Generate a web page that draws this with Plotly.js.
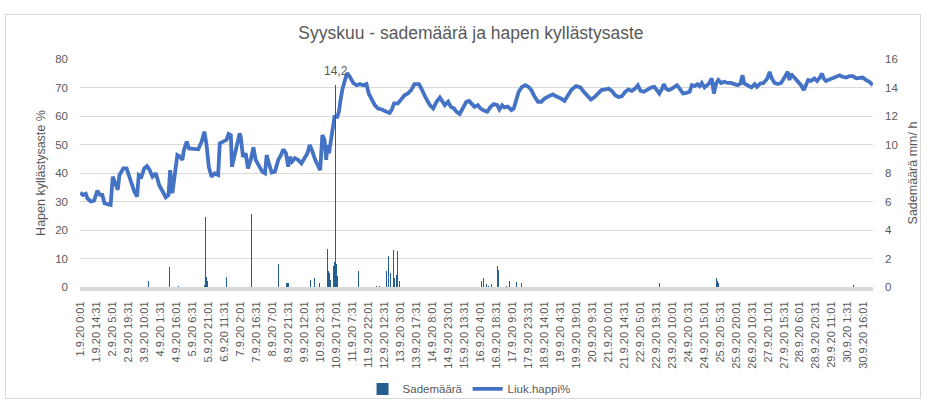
<!DOCTYPE html>
<html><head><meta charset="utf-8">
<script src="https://cdn.plot.ly/plotly-3.0.1.min.js"></script>
<style>
html,body{margin:0;padding:0;background:#fff;}
#chart{width:927px;height:406px;}
#frame{position:absolute;left:5px;top:14px;width:914px;height:383px;border:1px solid #d9d9d9;pointer-events:none;}
</style>
</head><body>
<div id="chart"></div><div id="frame"></div>
<script>
// Category axis: half-hour rows, labelled every 29th row
const tickLabels = ["1.9.20 0:01","1.9.20 14:31","2.9.20 5:01","2.9.20 19:31","3.9.20 10:01","4.9.20 1:31","4.9.20 16:01","5.9.20 6:31","5.9.20 21:01","6.9.20 11:31","7.9.20 2:01","7.9.20 16:31","8.9.20 7:01","8.9.20 21:31","9.9.20 12:01","10.9.20 2:31","10.9.20 17:01","11.9.20 7:31","11.9.20 22:01","12.9.20 12:31","13.9.20 3:01","13.9.20 17:31","14.9.20 8:01","14.9.20 23:01","15.9.20 13:31","16.9.20 4:01","16.9.20 18:31","17.9.20 9:01","17.9.20 23:31","18.9.20 14:01","19.9.20 4:31","19.9.20 19:01","20.9.20 9:31","21.9.20 0:01","21.9.20 14:31","22.9.20 5:01","22.9.20 19:31","23.9.20 10:01","24.9.20 0:31","24.9.20 15:01","25.9.20 5:31","25.9.20 20:01","26.9.20 10:31","27.9.20 1:01","27.9.20 15:31","28.9.20 6:01","28.9.20 20:31","29.9.20 11:01","30.9.20 1:31","30.9.20 16:01"];
const tickRowStep = 29;
const rowCount = 1438;

// Liuk.happi% (row index, value)
const oxyRow = [0,5,10,13,19,25,31,36,40,44,51,55,59,63,68,71,78,84,88,93,98,103,106,111,116,121,126,131,137,143,149,155,160,163,167,171,176,181,185,188,193,197,205,214,220,225,229,233,238,244,250,253,259,265,269,273,275,279,283,289,291,295,300,304,309,314,318,324,330,335,338,342,347,353,359,364,368,373,377,380,384,389,395,401,406,412,416,420,426,431,435,439,443,446,448,451,454,457,461,466,469,472,475,480,484,489,495,501,507,513,519,523,528,534,540,547,555,561,565,569,576,582,588,594,600,606,614,617,622,628,634,640,646,652,657,661,667,672,678,682,688,694,700,705,709,715,721,726,732,738,744,750,756,760,765,769,775,782,786,791,795,801,807,813,818,824,830,836,842,849,857,863,866,872,878,884,891,899,907,913,919,926,933,939,945,952,958,964,970,976,982,988,994,1000,1006,1011,1016,1022,1028,1035,1041,1046,1050,1055,1058,1062,1067,1073,1078,1082,1087,1093,1099,1105,1109,1114,1119,1123,1127,1132,1137,1141,1145,1149,1153,1157,1162,1168,1174,1180,1186,1192,1197,1201,1204,1210,1217,1223,1227,1233,1239,1246,1250,1254,1259,1265,1271,1276,1280,1283,1286,1289,1294,1298,1302,1307,1312,1316,1320,1325,1331,1336,1340,1345,1348,1352,1358,1364,1370,1377,1383,1389,1395,1401,1407,1413,1419,1425,1431,1437];
const oxyVal = [33.1,32.3,32.7,31.1,30.0,30.3,33.8,32.3,32.3,29.4,29.0,28.8,38.7,37.0,34.1,39.3,41.6,41.6,39.3,36.4,33.5,31.7,39.3,38.7,41.6,42.4,41.0,38.7,39.9,35.8,33.5,31.5,32.3,41.0,32.9,39.9,46.3,45.7,44.6,48.1,51.0,48.6,48.6,48.3,51.0,54.5,49.8,42.2,38.7,39.9,39.3,50.4,51.0,51.6,53.7,53.3,42.2,45.7,48.6,53.9,52.7,45.7,46.9,41.6,44.6,49.0,44.6,42.2,40.5,39.9,46.3,43.4,40.2,40.5,44.6,46.3,48.3,46.9,42.2,45.7,44.0,45.2,44.6,43.4,45.2,46.9,49.8,48.1,44.6,42.2,41.0,53.3,51.6,44.6,49.8,46.9,51.0,56.2,59.7,59.7,61.5,65.6,69.1,72.6,75.1,73.7,71.6,70.8,71.2,70.8,71.2,67.9,66.1,63.8,62.6,62.3,61.5,61.1,62.3,64.4,64.4,66.1,67.3,67.9,69.1,71.2,71.2,70.2,67.9,65.8,63.8,62.6,65.0,66.5,65.0,63.8,65.0,63.2,62.6,61.5,60.7,63.2,65.0,65.3,64.4,63.2,63.8,62.6,61.9,61.5,63.2,64.2,63.8,62.3,63.8,63.0,63.3,62.1,62.6,65.6,68.5,70.2,70.8,70.2,69.1,66.7,65.0,65.0,66.1,66.9,67.6,66.9,66.7,66.1,65.3,67.3,69.3,70.5,70.0,68.5,67.3,65.8,66.7,67.9,69.1,69.3,69.6,68.8,67.3,66.7,66.9,68.5,69.3,68.8,69.6,70.8,68.8,68.5,69.1,70.0,70.2,69.1,67.9,69.6,71.2,69.6,69.1,69.6,70.5,70.8,69.6,67.9,68.1,68.5,70.8,70.5,71.2,70.5,71.6,70.0,70.8,71.6,73.2,67.9,71.4,72.6,71.6,72.0,71.6,71.6,71.2,70.8,71.4,74.3,71.4,70.8,70.0,71.2,70.2,71.4,71.6,73.2,75.5,73.2,71.6,71.2,71.6,73.2,74.3,75.5,72.6,74.7,73.7,72.8,71.6,70.8,69.1,71.2,72.6,72.3,73.2,72.3,73.2,74.9,73.2,72.3,72.8,73.2,73.5,74.3,73.7,73.5,74.0,74.0,73.2,73.2,73.5,72.6,72.0,70.8];

// Sademäärä mm/h (row index, value) – rows without rain are zero
const rainRow = [124,162,178,206,225,227,229,231,265,310,359,360,364,366,368,374,376,378,417,420,422,425,429,431,434,448,449,450,452,454,459,461,462,463,465,466,505,511,537,543,545,555,556,558,559,560,563,565,568,570,571,573,575,576,579,587,725,728,731,734,737,740,746,752,757,758,761,765,770,773,778,781,785,788,791,794,797,800,803,1050,1111,1115,1118,1120,1151,1154,1156,1157,1402];
const rainVal = [0.45,1.4,0.1,0.12,0.15,4.9,0.7,0.4,0.7,5.1,1.6,1.7,0.2,0.2,0.2,0.3,0.3,0.3,0.5,0.75,0.7,0.6,3.0,0.5,0.3,2.7,1.25,1.1,1.0,0.5,1.5,1.75,1.8,14.2,1.6,0.75,1.15,1.8,0.1,0.1,0.2,1.1,1.3,2.4,2.2,1.65,1.0,1.1,2.6,0.6,0.6,0.85,2.5,0.5,0.45,0.1,1.25,0.45,0.6,1.25,0.2,0.1,0.2,0.2,1.45,1.2,1.5,0.2,0.2,0.1,0.45,0.35,0.5,0.25,0.35,1.4,0.45,0.3,0.2,0.3,0.12,0.15,0.15,0.12,0.25,0.6,0.45,0.3,0.12];

const FONT = 'Liberation Sans, Arial, sans-serif';
const GREY = '#595959';
const tickVals = tickLabels.map((_, i) => i * tickRowStep);

let peakI = 0;
rainVal.forEach((v, i) => { if (v > rainVal[peakI]) peakI = i; });

const traces = [
  {type:'bar', name:'Sademäärä', x:rainRow, y:rainVal, yaxis:'y2', width:1,
   marker:{color:'#255E91', line:{width:0}}, hoverinfo:'x+y'},
  {type:'scatter', mode:'lines', name:'Liuk.happi%', x:oxyRow, y:oxyVal, yaxis:'y',
   line:{color:'#4472C4', width:3.8}}
];

const layout = {
  width:927, height:406,
  margin:{l:80, r:54, t:59, b:119, pad:0, autoexpand:false},
  paper_bgcolor:'#ffffff', plot_bgcolor:'#ffffff',
  font:{family:FONT, color:GREY},
  title:{text:'Syyskuu - sademäärä ja hapen kyllästysaste', font:{family:FONT, size:17.5, color:GREY},
         xref:'container', x:0.508, xanchor:'center', y:0.918, yanchor:'middle'},
  showlegend:true,
  legend:{orientation:'h', xref:'container', yref:'container', x:0.506, xanchor:'center', y:0.042, yanchor:'middle',
          font:{family:FONT, size:11.5, color:GREY}, bgcolor:'rgba(0,0,0,0)', itemwidth:30},
  bargap:0,
  xaxis:{range:[-0.5, rowCount - 0.5], tickmode:'array', tickvals:tickVals, ticktext:tickLabels, automargin:false,
         tickangle:-90, tickfont:{family:FONT, size:11, color:GREY}, ticks:'', ticklabelstandoff:6,
         showgrid:false, zeroline:false, showline:true, linecolor:'#d9d9d9', linewidth:4, fixedrange:true},
  yaxis:{range:[0,80], dtick:10, tick0:0, showgrid:true, gridcolor:'#d9d9d9', gridwidth:1, automargin:false,
         zeroline:false, showline:false, ticks:'', ticklabelstandoff:11,
         tickfont:{family:FONT, size:11.5, color:GREY},
         title:{text:'Hapen kyllästysaste %', font:{family:FONT, size:12.5, color:GREY}, standoff:6}},
  yaxis2:{range:[0,16], dtick:2, tick0:0, overlaying:'y', side:'right', showgrid:false, automargin:false,
          zeroline:false, showline:false, ticks:'', ticklabelstandoff:11,
          tickfont:{family:FONT, size:11.5, color:GREY},
          title:{text:'Sademäärä mm/ h', font:{family:FONT, size:12.5, color:GREY}, standoff:10}},
  annotations:[{xref:'x', yref:'y2', x:rainRow[peakI], y:rainVal[peakI],
                text:rainVal[peakI].toFixed(1).replace('.', ','), showarrow:false,
                xanchor:'center', yanchor:'bottom', yshift:5,
                font:{family:FONT, size:12, color:GREY}}]
};

Plotly.newPlot('chart', traces, layout, {displayModeBar:false, staticPlot:true});
</script>
</body></html>
